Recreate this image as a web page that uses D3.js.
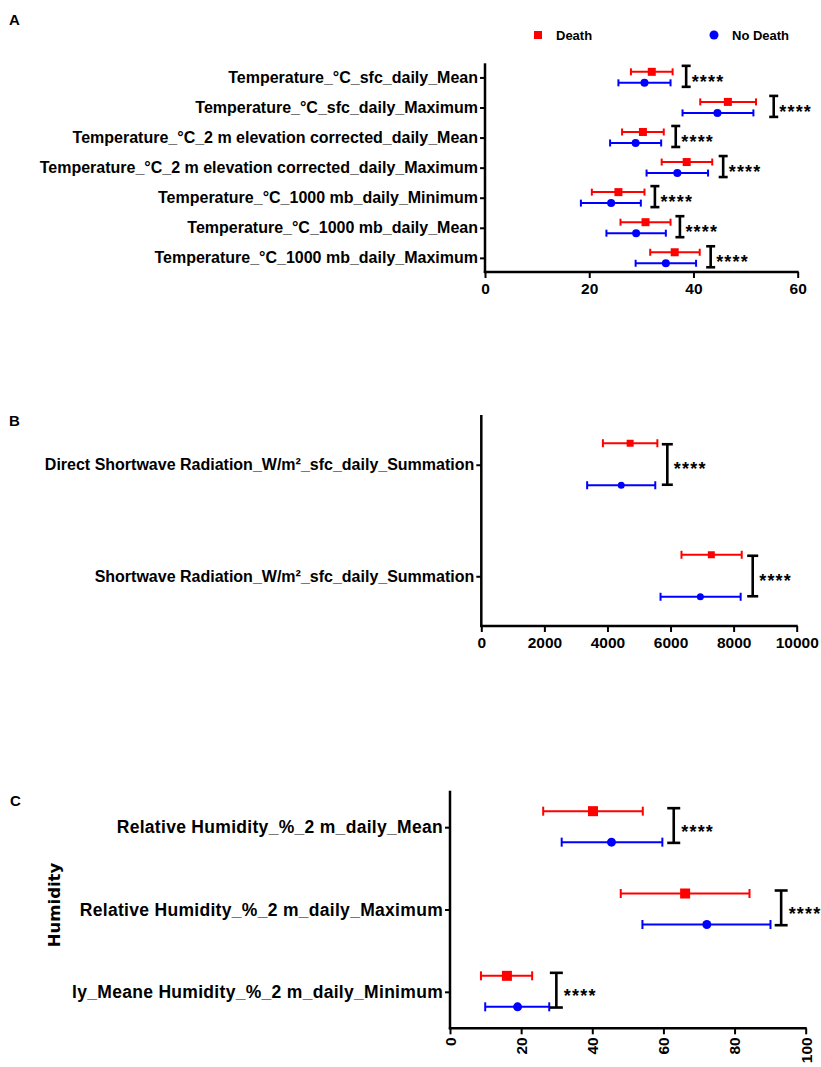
<!DOCTYPE html>
<html>
<head>
<meta charset="utf-8">
<script src="https://cdn.jsdelivr.net/npm/d3@7"></script>
<style>
  html, body { margin: 0; padding: 0; background: #fff; }
  svg { display: block; font-family: "Liberation Sans", Arial, sans-serif; }
</style>
</head>
<body>
<svg id="chart" width="821" height="1067"></svg>
<script>
// ---------- Data ----------
const legendLabels = ["Death", "No Death"];

// Panel A: Temperature (°C)
const tempCategories = [
  "Temperature_°C_sfc_daily_Mean",
  "Temperature_°C_sfc_daily_Maximum",
  "Temperature_°C_2 m elevation corrected_daily_Mean",
  "Temperature_°C_2 m elevation corrected_daily_Maximum",
  "Temperature_°C_1000 mb_daily_Minimum",
  "Temperature_°C_1000 mb_daily_Mean",
  "Temperature_°C_1000 mb_daily_Maximum"
];
const tempDeathMean   = [32.0, 46.6, 30.3, 38.7, 25.6, 30.8, 36.4];
const tempDeathLow    = [28.0, 41.3, 26.3, 33.9, 20.5, 26.0, 31.7];
const tempDeathHigh   = [36.0, 52.0, 34.3, 43.6, 30.6, 35.6, 41.2];
const tempNoDeathMean = [30.6, 44.6, 28.9, 36.9, 24.2, 29.0, 34.7];
const tempNoDeathLow  = [25.6, 37.9, 24.0, 31.0, 18.4, 23.3, 28.9];
const tempNoDeathHigh = [35.6, 51.5, 33.8, 42.8, 29.9, 34.7, 40.5];
const tempSigX        = [38.6, 55.4, 36.6, 45.7, 32.6, 37.4, 43.3];
const tempSigLabels   = ["****", "****", "****", "****", "****", "****", "****"];
const tempTicks       = [0, 20, 40, 60];

// Panel B: Radiation (W/m²)
const radCategories = [
  "Direct Shortwave Radiation_W/m²_sfc_daily_Summation",
  "Shortwave Radiation_W/m²_sfc_daily_Summation"
];
const radDeathMean   = [4719, 7293];
const radDeathLow    = [3855, 6347];
const radDeathHigh   = [5582, 8257];
const radNoDeathMean = [4437, 6945];
const radNoDeathLow  = [3356, 5683];
const radNoDeathHigh = [5516, 8223];
const radSigX        = [5898, 8605];
const radSigLabels   = ["****", "****"];
const radTicks       = [0, 2000, 4000, 6000, 8000, 10000];

// Panel C: Humidity (%)
const humCategories = [
  "Relative Humidity_%_2 m_daily_Mean",
  "Relative Humidity_%_2 m_daily_Maximum",
  "ly_Meane Humidity_%_2 m_daily_Minimum"
];
const humDeathMean   = [40.2, 66.1, 16.0];
const humDeathLow    = [26.2, 48.0, 8.7];
const humDeathHigh   = [54.2, 84.2, 23.1];
const humNoDeathMean = [45.4, 72.2, 19.0];
const humNoDeathLow  = [31.4, 54.1, 9.9];
const humNoDeathHigh = [59.7, 90.1, 27.9];
const humSigX        = [62.9, 93.1, 29.9];
const humSigLabels   = ["****", "****", "****"];
const humTicks       = [0, 20, 40, 60, 80, 100];
const humAxisTitle   = "Humidity";

// ---------- Drawing ----------
const RED = "#ff0000", BLUE = "#0000ff";
const svg = d3.select("#chart");

function drawPanel(p) {
  const g = svg.append("g");
  const x = d3.scaleLinear().domain(p.domain).range(p.xRange);
  const y = d3.scalePoint().domain(p.categories).range(p.yRange).padding(p.pad);

  // y axis
  const yAxis = g.append("g")
    .attr("transform", `translate(${p.xRange[0]},0)`)
    .call(d3.axisLeft(y).tickSize(5).tickPadding(2).tickSizeOuter(0));
  yAxis.select(".domain").remove();
  yAxis.selectAll(".tick line").attr("stroke", "#000").attr("stroke-width", 2);
  yAxis.selectAll(".tick text")
    .attr("fill", "#000")
    .style("font-size", p.labelSize + "px")
    .style("letter-spacing", (p.labelSpacing || 0) + "px")
    .style("font-weight", "bold")
    .style("font-family", "'Liberation Sans', Arial, sans-serif");
  g.append("line")
    .attr("x1", p.xRange[0]).attr("x2", p.xRange[0])
    .attr("y1", p.yRange[0]).attr("y2", p.yRange[1] + 1)
    .attr("stroke", "#000").attr("stroke-width", 2.5);

  // x axis
  const xAxis = g.append("g")
    .attr("transform", `translate(0,${p.yRange[1]})`)
    .call(d3.axisBottom(x).tickValues(p.ticks).tickFormat(d3.format("d")).tickSize(6).tickSizeOuter(0));
  xAxis.select(".domain").remove();
  xAxis.selectAll(".tick line").attr("stroke", "#000").attr("stroke-width", 2);
  g.append("line")
    .attr("x1", p.xRange[0] - 1.2).attr("x2", p.xRange[1] + 1)
    .attr("y1", p.yRange[1]).attr("y2", p.yRange[1])
    .attr("stroke", "#000").attr("stroke-width", 2.5);
  const tt = xAxis.selectAll(".tick text")
    .attr("fill", "#000")
    .style("font-size", "15.5px")
    .style("font-weight", "bold");
  if (p.rotateTicks) {
    tt.attr("transform", "rotate(-90)")
      .attr("x", -9).attr("y", 0).attr("dy", "0.35em")
      .attr("text-anchor", "end");
  } else {
    tt.attr("y", 11).attr("dy", "0.71em");
  }

  const series = [
    { mean: p.dMean, low: p.dLow, high: p.dHigh, color: RED, off: p.offD, shape: "square" },
    { mean: p.nMean, low: p.nLow, high: p.nHigh, color: BLUE, off: p.offN, shape: "circle" }
  ];
  series.forEach(s => {
    p.categories.forEach((c, i) => {
      const cy = y(c) + s.off;
      const eg = g.append("g").attr("stroke", s.color).attr("stroke-width", 2).attr("fill", "none");
      eg.append("line").attr("x1", x(s.low[i])).attr("x2", x(s.high[i])).attr("y1", cy).attr("y2", cy);
      eg.append("line").attr("x1", x(s.low[i])).attr("x2", x(s.low[i])).attr("y1", cy - p.cap).attr("y2", cy + p.cap);
      eg.append("line").attr("x1", x(s.high[i])).attr("x2", x(s.high[i])).attr("y1", cy - p.cap).attr("y2", cy + p.cap);
      if (s.shape === "square") {
        g.append("rect")
          .attr("x", x(s.mean[i]) - p.sq / 2).attr("y", cy - p.sq / 2)
          .attr("width", p.sq).attr("height", p.sq).attr("fill", s.color);
      } else {
        g.append("circle").attr("cx", x(s.mean[i])).attr("cy", cy).attr("r", p.r).attr("fill", s.color);
      }
    });
  });

  // significance brackets
  p.categories.forEach((c, i) => {
    const bx = x(p.sigX[i]);
    const y1 = y(c) + p.brTop, y2 = y(c) + p.brBot;
    const bg = g.append("g").attr("stroke", "#000").attr("stroke-width", 2.6).attr("fill", "none");
    bg.append("line").attr("x1", bx).attr("x2", bx).attr("y1", y1).attr("y2", y2);
    bg.append("line").attr("x1", bx - p.brW / 2).attr("x2", bx + p.brW / 2).attr("y1", y1).attr("y2", y1);
    bg.append("line").attr("x1", bx - p.brW / 2).attr("x2", bx + p.brW / 2).attr("y1", y2).attr("y2", y2);
    g.append("text")
      .attr("x", bx + p.brW / 2 + 1)
      .attr("y", y(c) + 10.5)
      .attr("fill", "#000")
      .style("font-size", "18px")
      .style("font-weight", "bold")
      .style("letter-spacing", "1.2px")
      .text(p.sigLabels[i]);
  });

  // panel letter
  svg.append("text").attr("x", p.letterPos[0]).attr("y", p.letterPos[1])
    .style("font-size", "15px").style("font-weight", "bold").text(p.letter);
}

drawPanel({
  letter: "A", letterPos: [9, 25],
  categories: tempCategories, domain: [0, 60], ticks: tempTicks,
  xRange: [485, 797.7], yRange: [63.3, 272], pad: 0.47, labelSize: 16,
  dMean: tempDeathMean, dLow: tempDeathLow, dHigh: tempDeathHigh,
  nMean: tempNoDeathMean, nLow: tempNoDeathLow, nHigh: tempNoDeathHigh,
  sigX: tempSigX, sigLabels: tempSigLabels,
  offD: -5.6, offN: 5.4, cap: 3.5, sq: 8, r: 4, brTop: -11.6, brBot: 9.4, brW: 9
});

drawPanel({
  letter: "B", letterPos: [9, 426],
  categories: radCategories, domain: [0, 10000], ticks: radTicks,
  xRange: [481.3, 796.7], yRange: [415, 626], pad: 0.446, labelSize: 16,
  dMean: radDeathMean, dLow: radDeathLow, dHigh: radDeathHigh,
  nMean: radNoDeathMean, nLow: radNoDeathLow, nHigh: radNoDeathHigh,
  sigX: radSigX, sigLabels: radSigLabels,
  offD: -21.5, offN: 20.5, cap: 4, sq: 7, r: 3.5, brTop: -20.5, brBot: 20, brW: 11
});

drawPanel({
  letter: "C", letterPos: [10, 806],
  categories: humCategories, domain: [0, 100], ticks: humTicks,
  xRange: [450, 805.7], yRange: [790.7, 1028.3], pad: 0.443, labelSize: 17.5, labelSpacing: 0.3,
  rotateTicks: true,
  dMean: humDeathMean, dLow: humDeathLow, dHigh: humDeathHigh,
  nMean: humNoDeathMean, nLow: humNoDeathLow, nHigh: humNoDeathHigh,
  sigX: humSigX, sigLabels: humSigLabels,
  offD: -16, offN: 15, cap: 4.5, sq: 10, r: 4.5, brTop: -19, brBot: 15.7, brW: 13
});

// y-axis title for panel C
svg.append("text")
  .attr("transform", "translate(54,905) rotate(-90)")
  .attr("text-anchor", "middle").attr("dy", "0.35em")
  .style("font-family", "'DejaVu Sans', sans-serif")
  .style("font-size", "16.5px").style("font-weight", "bold")
  .text(humAxisTitle);

// legend
const legend = svg.append("g");
legend.append("rect").attr("x", 534).attr("y", 31).attr("width", 8).attr("height", 8).attr("fill", RED);
legend.append("text").attr("x", 556).attr("y", 39.5).style("font-size", "13px").style("font-weight", "bold").text(legendLabels[0]);
legend.append("circle").attr("cx", 714).attr("cy", 35).attr("r", 4.5).attr("fill", BLUE);
legend.append("text").attr("x", 732).attr("y", 39.5).style("font-size", "13px").style("font-weight", "bold").text(legendLabels[1]);
</script>
</body>
</html>
